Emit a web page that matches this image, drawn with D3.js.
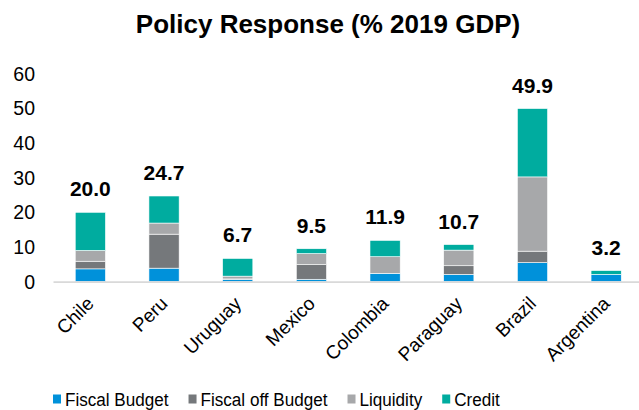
<!DOCTYPE html>
<html>
<head>
<meta charset="utf-8">
<script src="https://cdn.jsdelivr.net/npm/d3@7"></script>
<style>
  body { margin: 0; background: #fff; }
  text { font-family: "Liberation Sans", Arial, sans-serif; }
</style>
</head>
<body>
<svg id="chart" width="639" height="410"></svg>
<script>
// data
const countries = ["Chile", "Peru", "Uruguay", "Mexico", "Colombia", "Paraguay", "Brazil", "Argentina"];
const fiscalBudget    = [3.7, 3.9, 0.7, 0.7, 2.4, 2.1, 5.5, 2.1];
const fiscalOffBudget = [2.2, 9.8, 0.1, 4.2, 0.0, 2.5, 3.3, 0.0];
const liquidity       = [3.1, 3.2, 0.8, 3.2, 4.8, 4.5, 21.4, 0.0];
const credit          = [11.0, 7.8, 5.1, 1.4, 4.7, 1.6, 19.7, 1.1];
const totals = ["20.0", "24.7", "6.7", "9.5", "11.9", "10.7", "49.9", "3.2"];
const seriesNames = ["Fiscal Budget", "Fiscal off Budget", "Liquidity", "Credit"];
const seriesColors = ["#0091DA", "#75787B", "#A7A8AA", "#00AC9F"];
const yTicks = [0, 10, 20, 30, 40, 50, 60];

const svg = d3.select("svg#chart");

const rows = countries.map((c, i) => ({
  country: c,
  "Fiscal Budget": fiscalBudget[i],
  "Fiscal off Budget": fiscalOffBudget[i],
  "Liquidity": liquidity[i],
  "Credit": credit[i],
  total: totals[i]
}));

const stacked = d3.stack().keys(seriesNames)(rows);

const x = d3.scaleBand().domain(countries).range([53.5, 643]).paddingInner(0.59).paddingOuter(0.295);
const y = d3.scaleLinear().domain([0, 60]).range([281.7, 73.5]);

// title
svg.append("text")
  .attr("x", 328)
  .attr("y", 33)
  .attr("text-anchor", "middle")
  .attr("font-size", 26)
  .attr("font-weight", "bold")
  .attr("fill", "#000")
  .text("Policy Response (% 2019 GDP)");

// y axis labels (no axis line)
svg.append("g")
  .selectAll("text")
  .data(yTicks)
  .join("text")
  .attr("x", 35)
  .attr("y", d => y(d))
  .attr("dy", "0.36em")
  .attr("text-anchor", "end")
  .attr("font-size", 19.5)
  .attr("fill", "#000")
  .text(d => d);

// bars
svg.append("g")
  .selectAll("g")
  .data(stacked)
  .join("g")
  .attr("fill", (d, i) => seriesColors[i])
  .selectAll("rect")
  .data(d => d.filter(s => s[1] - s[0] > 0))
  .join("rect")
  .attr("x", d => x(d.data.country))
  .attr("y", d => y(d[1]))
  .attr("width", x.bandwidth())
  .attr("height", d => y(d[0]) - y(d[1]))
  .attr("stroke", "#fff")
  .attr("stroke-width", 0.6);

// baseline
svg.append("line")
  .attr("x1", 53.5)
  .attr("x2", 643)
  .attr("y1", y(0) + 0.5)
  .attr("y2", y(0) + 0.5)
  .attr("stroke", "#D9D9D9")
  .attr("stroke-width", 1.8);

// total labels
svg.append("g")
  .selectAll("text")
  .data(rows)
  .join("text")
  .attr("x", d => x(d.country) + x.bandwidth() / 2)
  .attr("y", d => y(d3.sum(seriesNames, k => d[k])) - 16)
  .attr("text-anchor", "middle")
  .attr("font-size", 21)
  .attr("font-weight", "bold")
  .attr("fill", "#000")
  .text(d => d.total);

// category labels, rotated
svg.append("g")
  .selectAll("text")
  .data(countries)
  .join("text")
  .attr("transform", d => `translate(${x(d) + x.bandwidth() / 2}, 300) rotate(-45)`)
  .attr("text-anchor", "end")
  .attr("dy", "0.35em")
  .attr("font-size", 19)
  .attr("fill", "#000")
  .text(d => d);

// legend (text a bit condensed, like the original)
const legend = svg.append("g").attr("transform", "translate(53, 399)");
const squeeze = 0.9;
let lx = 0;
seriesNames.forEach((name, i) => {
  const item = legend.append("g").attr("transform", `translate(${lx}, 0)`);
  item.append("rect")
    .attr("x", 0)
    .attr("y", -4.5)
    .attr("width", 8)
    .attr("height", 9)
    .attr("fill", seriesColors[i]);
  const t = item.append("text")
    .attr("transform", `translate(12, 0) scale(${squeeze}, 1)`)
    .attr("dy", "0.36em")
    .attr("font-size", 19)
    .attr("fill", "#000")
    .text(name);
  lx += 12 + t.node().getComputedTextLength() * squeeze + 20;
});
</script>
</body>
</html>
